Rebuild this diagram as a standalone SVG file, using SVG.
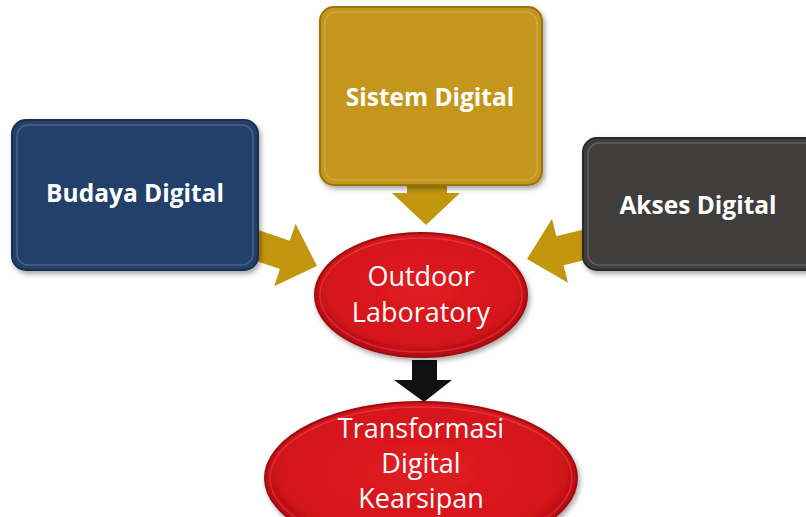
<svg xmlns="http://www.w3.org/2000/svg" width="806" height="517" viewBox="0 0 806 517">
  <defs>
    <filter id="shadow" x="-10%" y="-10%" width="125%" height="130%">
      <feDropShadow dx="2" dy="3" stdDeviation="2.5" flood-color="#000" flood-opacity="0.35"/>
    </filter>
    <radialGradient id="redFill" cx="50%" cy="45%" r="55%">
      <stop offset="0%" stop-color="#e01d22"/>
      <stop offset="80%" stop-color="#d4141a"/>
      <stop offset="100%" stop-color="#b00c12"/>
    </radialGradient>
    <!-- block arrow pointing along +x, tip at origin -->
    <polygon id="goldArrow" points="-75,-15 -34,-15 -34,-33 0,0 -34,33 -34,15 -75,15"/>
  </defs>
  <style>
    .box { stroke-width: 2; filter: url(#shadow); }
    .bevel { fill: none; stroke: #ffffff; stroke-opacity: 0.18; stroke-width: 1.5; }
    .arrow-gold { fill: #c3960f; }
    .arrow-black { fill: #111111; }
    .ell { fill: url(#redFill); stroke: #9c0a0f; stroke-width: 2; filter: url(#shadow); }
    .ell-bevel { fill: none; stroke: #ff6a6a; stroke-opacity: 0.35; stroke-width: 1.5; }
    .lbl-box { font-family: "Open Sans", "Noto Sans", sans-serif; font-weight: bold; font-size: 24.5px; fill: #ffffff; text-anchor: middle; }
    .lbl-ell { font-family: "Open Sans", "Noto Sans", sans-serif; font-size: 27px; fill: #ffffff; text-anchor: middle; }
  </style>

  <!-- connectors -->
  <g id="connectors">
    <use href="#goldArrow" class="arrow-gold" transform="translate(317,266) rotate(19)"/>
    <use href="#goldArrow" class="arrow-gold" transform="translate(527,259) rotate(166)"/>
    <polygon class="arrow-gold" points="407,180 447,180 447,193 460,193 426,225 392,193 407,193"/>
    <polygon class="arrow-black" points="412,360 437,360 437,380 452,380 424,402 394,380 412,380"/>
  </g>

  <g id="budaya-digital">
    <rect class="box" x="12" y="120" width="246" height="150" rx="14" fill="#233f6a" stroke="#1a2f50"/>
    <rect class="bevel" x="17" y="125" width="236" height="140" rx="11"/>
    <text class="lbl-box" x="135" y="202">Budaya Digital</text>
  </g>

  <g id="sistem-digital">
    <rect class="box" x="320" y="7" width="222" height="178" rx="14" fill="#c4961a" stroke="#9a7410"/>
    <rect class="bevel" x="325" y="12" width="212" height="168" rx="11"/>
    <text class="lbl-box" x="430" y="106">Sistem Digital</text>
  </g>

  <g id="akses-digital">
    <rect class="box" x="583" y="138" width="240" height="132" rx="14" fill="#3f3e3e" stroke="#2a2a2a"/>
    <rect class="bevel" x="588" y="143" width="230" height="122" rx="11"/>
    <text class="lbl-box" x="698" y="214">Akses Digital</text>
  </g>

  <g id="outdoor-laboratory">
    <ellipse class="ell" cx="421" cy="295" rx="106" ry="62"/>
    <ellipse class="ell-bevel" cx="421" cy="295" rx="101" ry="57"/>
    <text class="lbl-ell" x="421" y="286">Outdoor</text>
    <text class="lbl-ell" x="421" y="322">Laboratory</text>
  </g>

  <g id="transformasi-digital">
    <ellipse class="ell" cx="421" cy="478" rx="156" ry="76"/>
    <ellipse class="ell-bevel" cx="421" cy="478" rx="151" ry="71"/>
    <text class="lbl-ell" x="421" y="438">Transformasi</text>
    <text class="lbl-ell" x="421" y="473">Digital</text>
    <text class="lbl-ell" x="421" y="508">Kearsipan</text>
  </g>
</svg>
